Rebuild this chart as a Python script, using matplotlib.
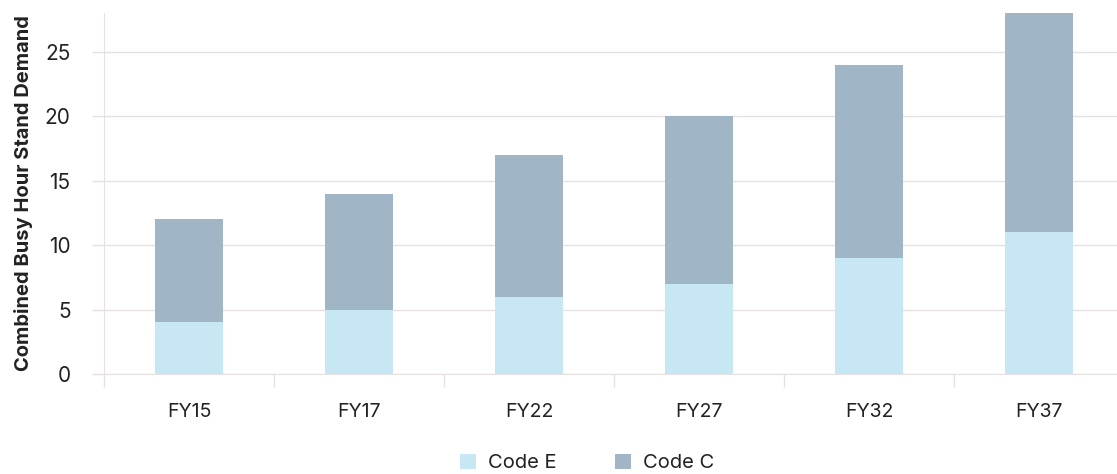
import matplotlib.pyplot as plt
import numpy as np

plt.rcParams['font.family'] = ['Inter', 'DejaVu Sans']

# Dados
anos = ['FY15', 'FY17', 'FY22', 'FY27', 'FY32', 'FY37']
code_e = np.array([4, 5, 6, 7, 9, 11])
code_c = np.array([8, 9, 11, 13, 15, 17])

cor_e = '#c8e7f5'
cor_c = '#a0b5c6'
cor_grade = '#e6e1e1'
cor_texto = '#222222'

fig = plt.figure(figsize=(11.17, 4.74), dpi=100)
ax = fig.add_axes([104 / 1117, 100 / 474, 1020 / 1117, 361 / 474])

x = np.arange(len(anos))
ax.bar(x, code_e, width=0.4, color=cor_e, label='Code E', zorder=3)
ax.bar(x, code_c, width=0.4, bottom=code_e, color=cor_c, label='Code C', zorder=3)

ax.set_xlim(-0.5, len(anos) - 0.5)
ax.set_ylim(0, 28)
ax.set_yticks(np.arange(0, 30, 5))

# Separadores entre categorias e rótulos no centro
ax.set_xticks(np.arange(len(anos) + 1) - 0.5)
ax.set_xticklabels([])
ax.set_xticks(x, minor=True)
ax.set_xticklabels(anos, minor=True)
ax.tick_params(axis='x', which='major', length=9, width=1, color=cor_grade)
ax.tick_params(axis='x', which='minor', length=0, pad=21, labelsize=14, labelcolor=cor_texto)
ax.tick_params(axis='y', length=9, width=1, color=cor_grade, pad=15, labelsize=15,
               labelcolor=cor_texto)

ax.grid(axis='y', color=cor_grade, linewidth=1, zorder=0)
for lado in ['top', 'right']:
    ax.spines[lado].set_visible(False)
ax.spines['left'].set_color(cor_grade)
ax.spines['bottom'].set_color(cor_grade)

ax.set_ylabel('Combined Busy Hour Stand Demand', fontsize=14.5, fontweight='bold',
              color=cor_texto)
ax.yaxis.set_label_coords(-0.07, 0.5)

fig.legend(loc='center', bbox_to_anchor=(587 / 1117, 1 - 463 / 474), ncol=2, frameon=False,
           fontsize=14.5, handlelength=0.8, handleheight=0.8, handletextpad=0.6,
           columnspacing=2.9, labelcolor=cor_texto)

plt.savefig('out.png', dpi=100)
